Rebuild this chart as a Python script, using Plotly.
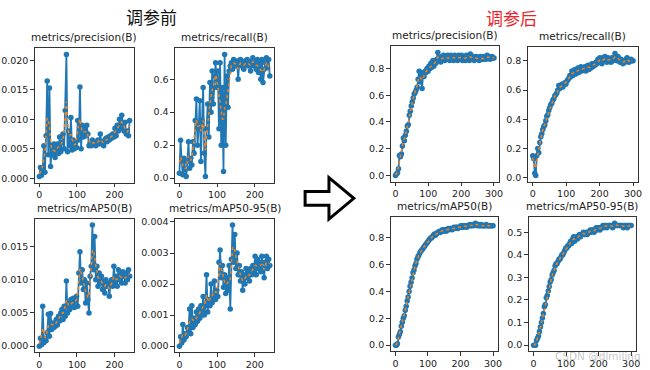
import numpy as np
import plotly.graph_objects as go

# ---------------- data ----------------
before_epochs = list(range(0, 241, 3))
after_epochs = list(range(0, 301, 3))

before_precision = [
    0.0003, 0.0018, 0.0005, 0.0015, 0.0055, 0.0010, 0.0072, 0.0165, 0.0040, 0.0153,
    0.0020, 0.0055, 0.0040, 0.0058, 0.0035, 0.0050, 0.0058, 0.0042, 0.0070, 0.0045,
    0.0060, 0.0075, 0.0050, 0.0115, 0.0210, 0.0045, 0.0080, 0.0055, 0.0103, 0.0048,
    0.0065, 0.0050, 0.0060, 0.0052, 0.0098, 0.0065, 0.0155, 0.0050, 0.0090, 0.0070,
    0.0085, 0.0072, 0.0090, 0.0075, 0.0055, 0.0060, 0.0055, 0.0065, 0.0058, 0.0062,
    0.0055, 0.0060, 0.0065, 0.0058, 0.0075, 0.0060, 0.0062, 0.0055, 0.0065, 0.0068,
    0.0062, 0.0070, 0.0065, 0.0072, 0.0068, 0.0075, 0.0070, 0.0085, 0.0072, 0.0090,
    0.0080, 0.0100, 0.0085, 0.0107, 0.0090, 0.0080, 0.0095, 0.0075, 0.0080, 0.0072,
    0.0098,
]
before_recall = [
    0.03, 0.23, 0.10, 0.02, 0.12, 0.05, 0.01, 0.10, 0.22, 0.06,
    0.12, 0.08, 0.22, 0.15, 0.35, 0.48, 0.20, 0.30, 0.47, 0.10,
    0.35, 0.55, 0.15, 0.01, 0.30, 0.45, 0.25, 0.58, 0.40, 0.65,
    0.45, 0.62, 0.70, 0.55, 0.65, 0.30, 0.70, 0.20, 0.55, 0.04,
    0.75, 0.20, 0.62, 0.43, 0.65, 0.68, 0.70, 0.66, 0.72, 0.70,
    0.68, 0.71, 0.60, 0.70, 0.72, 0.68, 0.70, 0.66, 0.71, 0.69,
    0.72, 0.68, 0.70, 0.65, 0.71, 0.73, 0.68, 0.70, 0.66, 0.72,
    0.64, 0.70, 0.60, 0.72, 0.58, 0.66, 0.70, 0.73, 0.67, 0.72,
    0.62,
]
before_map50 = [
    0.0000, 0.0012, 0.0002, 0.0060, 0.0005, 0.0012, 0.0008, 0.0020, 0.0048, 0.0015,
    0.0049, 0.0025, 0.0035, 0.0028, 0.0030, 0.0040, 0.0032, 0.0045, 0.0038, 0.0050,
    0.0055, 0.0040, 0.0060, 0.0045, 0.0098, 0.0050, 0.0065, 0.0055, 0.0070, 0.0060,
    0.0072, 0.0058, 0.0068, 0.0075, 0.0060, 0.0110, 0.0142, 0.0095, 0.0115, 0.0085,
    0.0100, 0.0065, 0.0095, 0.0070, 0.0050, 0.0105, 0.0120, 0.0182, 0.0115, 0.0165,
    0.0100, 0.0120, 0.0090, 0.0110, 0.0095, 0.0105, 0.0085, 0.0098, 0.0080, 0.0100,
    0.0090, 0.0095, 0.0075, 0.0092, 0.0100, 0.0090, 0.0120, 0.0095, 0.0105, 0.0090,
    0.0115, 0.0100, 0.0110, 0.0095, 0.0112, 0.0105, 0.0095, 0.0110, 0.0100, 0.0115,
    0.0105,
]
before_map5095 = [
    0.00000, 0.00030, 0.00010, 0.00070, 0.00020, 0.00040, 0.00030, 0.00060, 0.00050, 0.00120,
    0.00040, 0.00130, 0.00060, 0.00090, 0.00070, 0.00110, 0.00080, 0.00120, 0.00090, 0.00130,
    0.00100, 0.00160, 0.00100, 0.00130, 0.00230, 0.00110, 0.00150, 0.00130, 0.00200, 0.00140,
    0.00160, 0.00210, 0.00150, 0.00180, 0.00160, 0.00270, 0.00310, 0.00220, 0.00260, 0.00190,
    0.00230, 0.00170, 0.00220, 0.00180, 0.00260, 0.00120, 0.00280, 0.00390, 0.00270, 0.00360,
    0.00250, 0.00300, 0.00230, 0.00260, 0.00210, 0.00240, 0.00180, 0.00230, 0.00200, 0.00250,
    0.00220, 0.00240, 0.00210, 0.00250, 0.00230, 0.00260, 0.00240, 0.00290, 0.00230, 0.00280,
    0.00250, 0.00270, 0.00240, 0.00290, 0.00250, 0.00220, 0.00270, 0.00290, 0.00250, 0.00280,
    0.00260,
]

after_precision = [
    0.00, 0.01, 0.02, 0.05, 0.15, 0.14, 0.16, 0.22, 0.28, 0.26,
    0.30, 0.33, 0.37, 0.38, 0.45, 0.48, 0.52, 0.55, 0.58, 0.61,
    0.62, 0.64, 0.66, 0.72, 0.78, 0.70, 0.77, 0.65, 0.76, 0.74,
    0.78, 0.77, 0.80, 0.78, 0.82, 0.80, 0.84, 0.81, 0.86, 0.82,
    0.85, 0.84, 0.87, 0.92, 0.86, 0.88, 0.85, 0.89, 0.87, 0.90,
    0.86, 0.89, 0.87, 0.90, 0.88, 0.86, 0.90, 0.88, 0.89, 0.86,
    0.90, 0.87, 0.89, 0.86, 0.90, 0.88, 0.87, 0.90, 0.86, 0.89,
    0.88, 0.86, 0.90, 0.87, 0.89, 0.86, 0.91, 0.88, 0.87, 0.89,
    0.86, 0.88, 0.89, 0.87, 0.88, 0.86, 0.89, 0.88, 0.87, 0.89,
    0.87, 0.88, 0.87, 0.90, 0.88, 0.89, 0.87, 0.88, 0.89, 0.88,
    0.88,
]
after_recall = [
    0.15, 0.13, 0.03, 0.015, 0.15, 0.20, 0.17, 0.24, 0.28, 0.30,
    0.33, 0.35, 0.36, 0.39, 0.42, 0.43, 0.46, 0.48, 0.50, 0.51,
    0.53, 0.54, 0.56, 0.57, 0.58, 0.60, 0.63, 0.61, 0.62, 0.64,
    0.62, 0.64, 0.65, 0.64, 0.66, 0.67, 0.68, 0.70, 0.69, 0.73,
    0.70, 0.72, 0.74, 0.71, 0.73, 0.75, 0.72, 0.74, 0.76, 0.73,
    0.75, 0.74, 0.76, 0.73, 0.75, 0.77, 0.74, 0.76, 0.75, 0.78,
    0.76, 0.78, 0.77, 0.79, 0.78, 0.81, 0.79, 0.82, 0.80, 0.78,
    0.82, 0.80, 0.83, 0.81, 0.79, 0.82, 0.80, 0.81, 0.79, 0.82,
    0.80, 0.81, 0.85, 0.82, 0.80, 0.83, 0.81, 0.79, 0.81, 0.80,
    0.78, 0.80, 0.79, 0.81, 0.82, 0.80, 0.79, 0.80, 0.81, 0.80,
    0.80,
]
after_map50 = [
    0.00, 0.00, 0.01, 0.06, 0.08, 0.10, 0.14, 0.17, 0.20, 0.22,
    0.26, 0.29, 0.33, 0.36, 0.40, 0.44, 0.47, 0.50, 0.54, 0.56,
    0.59, 0.61, 0.64, 0.66, 0.67, 0.69, 0.70, 0.71, 0.72, 0.73,
    0.74, 0.75, 0.76, 0.77, 0.78, 0.79, 0.80, 0.80, 0.81, 0.82,
    0.83, 0.82, 0.83, 0.84, 0.84, 0.85, 0.84, 0.85, 0.86, 0.85,
    0.86, 0.86, 0.85, 0.86, 0.87, 0.86, 0.87, 0.87, 0.86, 0.87,
    0.88, 0.87, 0.88, 0.88, 0.87, 0.88, 0.88, 0.89, 0.88, 0.89,
    0.88, 0.89, 0.89, 0.88, 0.89, 0.89, 0.90, 0.89, 0.89, 0.90,
    0.89, 0.90, 0.91, 0.90, 0.89, 0.90, 0.89, 0.89, 0.90, 0.89,
    0.89, 0.89, 0.89, 0.90, 0.89, 0.89, 0.89, 0.89, 0.89, 0.89,
    0.89,
]
after_map5095 = [
    0.00, 0.00, 0.00, 0.02, 0.03, 0.04, 0.06, 0.08, 0.10, 0.12,
    0.14, 0.17, 0.18, 0.21, 0.22, 0.24, 0.26, 0.28, 0.29, 0.31,
    0.32, 0.33, 0.35, 0.36, 0.36, 0.37, 0.38, 0.38, 0.39, 0.40,
    0.40, 0.41, 0.42, 0.43, 0.43, 0.44, 0.44, 0.45, 0.46, 0.45,
    0.47, 0.48, 0.46, 0.47, 0.48, 0.47, 0.48, 0.49, 0.48, 0.49,
    0.49, 0.50, 0.49, 0.49, 0.50, 0.49, 0.50, 0.50, 0.51, 0.50,
    0.51, 0.51, 0.50, 0.51, 0.52, 0.51, 0.52, 0.52, 0.51, 0.52,
    0.52, 0.53, 0.52, 0.53, 0.53, 0.52, 0.53, 0.53, 0.53, 0.53,
    0.53, 0.52, 0.53, 0.54, 0.53, 0.53, 0.53, 0.53, 0.53, 0.53,
    0.53, 0.53, 0.52, 0.53, 0.53, 0.53, 0.52, 0.53, 0.53, 0.53,
    0.53,
]

panel_titles = ["metrics/precision(B)", "metrics/recall(B)",
                "metrics/mAP50(B)", "metrics/mAP50-95(B)"]
group_titles = ["调参前", "调参后"]
watermark = "CSDN @dlmiling"

# ---------------- styling / layout ----------------
W, H = 650, 370
BLUE = "#1f77b4"
ORANGE = "#ff7f0e"
FRAME = "#333333"
TXT = "#222222"
FONT = "DejaVu Sans"


def smooth(y, sigma=1.0):
    r = int(4 * sigma + 0.5)
    k = np.exp(-0.5 * (np.arange(-r, r + 1) / sigma) ** 2)
    k /= k.sum()
    yp = np.pad(np.asarray(y, float), r, mode="symmetric")
    return np.convolve(yp, k, mode="valid")


def padded(lo, hi, frac=0.05):
    s = hi - lo
    return [lo - frac * s, hi + frac * s]


# (title, epochs, values, box px (x0, x1, ytop, ybottom), y dtick, y format)
panels = [
    (panel_titles[0], before_epochs, before_precision, (35, 135, 46, 182), 0.005, ".3f"),
    (panel_titles[1], before_epochs, before_recall, (176, 276, 46, 182), 0.2, ".1f"),
    (panel_titles[2], before_epochs, before_map50, (35, 135, 219, 354), 0.005, ".3f"),
    (panel_titles[3], before_epochs, before_map5095, (176, 276, 219, 354), 0.001, ".3f"),
    (panel_titles[0], after_epochs, after_precision, (393, 502, 44, 181), 0.2, ".1f"),
    (panel_titles[1], after_epochs, after_recall, (531, 642, 45, 181), 0.2, ".1f"),
    (panel_titles[2], after_epochs, after_map50, (393, 501, 217, 353), 0.2, ".1f"),
    (panel_titles[3], after_epochs, after_map5095, (532, 640, 217, 353), 0.1, ".1f"),
]

fig = go.Figure()
layout = {}
annotations = []

for i, (title, ep, vals, box, dtick, fmt) in enumerate(panels, start=1):
    x = np.asarray(ep, float)
    y = np.asarray(vals, float)
    n = min(len(x), len(y))
    x, y = x[:n], y[:n]
    sfx = "" if i == 1 else str(i)
    xa, ya = "x" + sfx, "y" + sfx
    fig.add_trace(go.Scatter(
        x=x, y=y, mode="lines+markers", xaxis=xa, yaxis=ya,
        line=dict(color=BLUE, width=1.8),
        marker=dict(color=BLUE, size=5.5, line=dict(width=0)),
        showlegend=False, hoverinfo="skip"))
    fig.add_trace(go.Scatter(
        x=x, y=smooth(y), mode="lines", xaxis=xa, yaxis=ya,
        line=dict(color=ORANGE, width=1.5, dash="dot"),
        showlegend=False, hoverinfo="skip"))

    x0, x1, yt, yb = box
    common = dict(showline=True, mirror=True, linecolor=FRAME, linewidth=1,
                  ticks="outside", ticklen=3.5, tickwidth=0.8, tickcolor=FRAME,
                  showgrid=False, zeroline=False,
                  tickfont=dict(family=FONT, size=9.5, color=TXT))
    layout["xaxis" + sfx] = dict(
        domain=[x0 / W, x1 / W], anchor=ya,
        range=padded(x.min(), x.max()), tick0=0, dtick=100, **common)
    layout["yaxis" + sfx] = dict(
        domain=[1 - yb / H, 1 - yt / H], anchor=xa,
        range=padded(y.min(), y.max()), tick0=0, dtick=dtick,
        tickformat=fmt, **common)
    annotations.append(dict(
        text=title, xref="paper", yref="paper",
        x=(x0 + x1) / 2 / W, y=1 - (yt - 3) / H,
        xanchor="center", yanchor="bottom", showarrow=False,
        font=dict(family=FONT, size=10.5, color=TXT)))

annotations.append(dict(
    text=group_titles[0], xref="paper", yref="paper", x=152 / W, y=1 - 14 / H,
    xanchor="center", yanchor="middle", showarrow=False,
    font=dict(family="Noto Sans CJK SC", size=17, color="#111111")))
annotations.append(dict(
    text=group_titles[1], xref="paper", yref="paper", x=515 / W, y=1 - 15 / H,
    xanchor="center", yanchor="middle", showarrow=False,
    font=dict(family="Noto Sans CJK SC", size=17, color="#e8242b")))
annotations.append(dict(
    text=watermark, xref="paper", yref="paper", x=602 / W, y=1 - 358 / H,
    xanchor="center", yanchor="middle", showarrow=False,
    font=dict(family=FONT, size=10.5, color="rgba(150,150,150,0.55)")))


def P(px, py):
    return f"{px / W:.5f},{1 - py / H:.5f}"


arrow_path = ("M " + P(307, 191) + " L " + P(331, 191) + " L " + P(331, 177) +
              " L " + P(356, 198) + " L " + P(331, 219) + " L " + P(331, 205) +
              " L " + P(307, 205) + " Z")

fig.update_layout(
    width=W, height=H, margin=dict(l=0, r=0, t=0, b=0),
    paper_bgcolor="white", plot_bgcolor="white",
    annotations=annotations,
    shapes=[dict(type="path", path=arrow_path, xref="paper", yref="paper",
                 line=dict(color="black", width=3), fillcolor="white",
                 layer="above")],
    **layout,
)

fig.write_html(
    "out.html",
    config={"displayModeBar": False},
    post_script="document.body.style.margin='0';document.body.style.padding='0';"
                "document.body.style.overflow='hidden';",
)
